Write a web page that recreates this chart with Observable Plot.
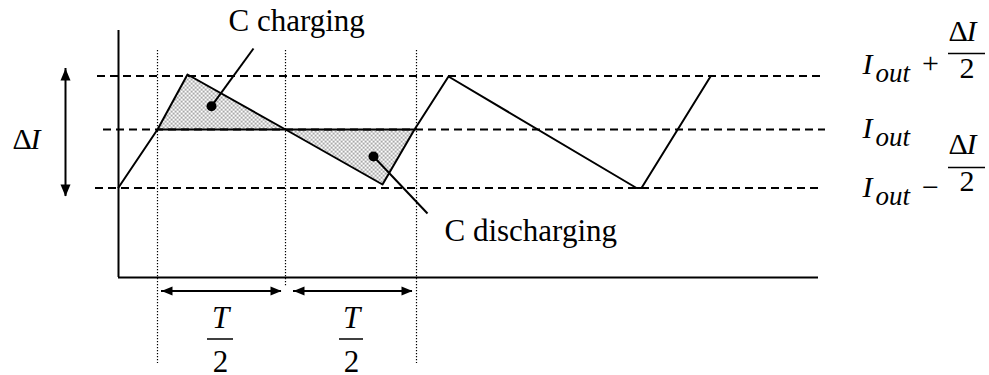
<!DOCTYPE html>
<html><head><meta charset="utf-8">
<script src="https://cdn.jsdelivr.net/npm/d3@7"></script>
<script src="https://cdn.jsdelivr.net/npm/@observablehq/plot@0.6"></script>
<style>
body{margin:0;background:#fff}
svg{display:block}
</style>
</head><body><div id="chart"></div>
<script>
// Diagram units: t = time (origin at the vertical axis), i = current relative to Iout (up positive)
const levels = [
  {name: "Iout + ΔI/2", i: 53.5, t1: -21, t2: 704},
  {name: "Iout", i: 0, t1: -15, t2: 707},
  {name: "Iout − ΔI/2", i: -58.5, t1: -23, t2: 700}
];
const wave = [
  {t: 0, i: -58}, {t: 39, i: 0}, {t: 69, i: 55}, {t: 167, i: 0}, {t: 264, i: -55},
  {t: 296, i: 0}, {t: 330, i: 53}, {t: 518, i: -58.5}, {t: 523, i: -58.5}, {t: 592, i: 53}
];
const charging = [{t: 39, i: 0}, {t: 69, i: 55}, {t: 167, i: 0}, {t: 39, i: 0}];
const discharging = [{t: 167, i: 0}, {t: 264, i: -55}, {t: 296, i: 0}, {t: 167, i: 0}];
const midSegment = [{t1: 39, t2: 296, i: 0}];
const guides = [{t: 39, i1: 79, i2: -234}, {t: 167, i1: 79, i2: -158}, {t: 298, i1: 79, i2: -234}];
const axisY = [{t: 0, i1: 99, i2: -148}];
const axisX = [{i: -148, t1: 0, t2: 700}];
const pointers = [
  {name: "C charging", t1: 135, i1: 81, t2: 93, i2: 23.3},
  {name: "C discharging", t1: 309, i1: -84, t2: 255, i2: -27}
];
const deltaArrow = [{t: -53, i1: 61, i2: -67}];
const halfArrows = [{i: -161.5, t1: 43, t2: 163}, {i: -161.5, t1: 175, t2: 294}];
const captions = [
  {text: "C charging", t: 110, i: 99},
  {text: "C discharging", t: 326, i: -111}
];
const halfLabels = [{t: 102}, {t: 233}];
const halfNum = "T", halfDen = "2";
const halfBar = [{t1: 89, t2: 115}, {t1: 221, t2: 245}];
const halfRows = {num: -198, bar: -209.5, den: -242};
const levelLabels = [
  {row: "upper", I: 56, sub: 48, op: "+", opI: 57, dI: 89, bar: 76, den: 52},
  {row: "mid", I: -8, sub: -16},
  {row: "lower", I: -67, sub: -75, op: "−", opI: -67, dI: -24, bar: -38, den: -61}
];
const labelCols = {I: 744, sub: 757, op: 812, delta: 830, dI: 848, frac: 848.5, bar1: 830, bar2: 867};
const deltaLabel = {tDelta: -106, tI: -88, i: -19};

const serif = "Liberation Serif";
const headR = {draw(c){c.moveTo(0,0);c.lineTo(-11,-4.5);c.lineTo(-11,4.5);c.closePath();}};
const headL = {draw(c){c.moveTo(0,0);c.lineTo(11,-4.5);c.lineTo(11,4.5);c.closePath();}};
const headU = {draw(c){c.moveTo(0,0);c.lineTo(-5,12);c.lineTo(5,12);c.closePath();}};
const headD = {draw(c){c.moveTo(0,0);c.lineTo(-5,-12);c.lineTo(5,-12);c.closePath();}};

const fracRows = levelLabels.filter(d => d.op);

const svg = Plot.plot({
  width: 989, height: 375,
  marginTop: 0, marginRight: 0, marginBottom: 0, marginLeft: 0,
  x: {domain: [-118, 871], range: [0, 989], axis: null},
  y: {domain: [129, -246], range: [0, 375], axis: null},
  style: {background: "#fff"},
  marks: [
    Plot.line(charging, {x: "t", y: "i", fill: "url(#dots)", stroke: "none"}),
    Plot.line(discharging, {x: "t", y: "i", fill: "url(#dots)", stroke: "none"}),
    Plot.ruleY(levels, {y: "i", x1: "t1", x2: "t2", stroke: "#000", strokeWidth: 1.8, strokeDasharray: "8,5"}),
    Plot.ruleX(guides, {x: "t", y1: "i1", y2: "i2", stroke: "#000", strokeWidth: 1.2, strokeDasharray: "1.2,1.8"}),
    Plot.ruleX(axisY, {x: "t", y1: "i1", y2: "i2", stroke: "#000", strokeWidth: 2}),
    Plot.ruleY(axisX, {y: "i", x1: "t1", x2: "t2", stroke: "#000", strokeWidth: 2}),
    Plot.line(wave, {x: "t", y: "i", stroke: "#000", strokeWidth: 2}),
    Plot.ruleY(midSegment, {y: "i", x1: "t1", x2: "t2", stroke: "#000", strokeWidth: 2}),
    Plot.link(pointers, {x1: "t1", y1: "i1", x2: "t2", y2: "i2", stroke: "#000", strokeWidth: 2}),
    Plot.dot(pointers, {x: "t2", y: "i2", r: 5, fill: "#000", stroke: "none"}),
    // ΔI arrow
    Plot.ruleX(deltaArrow, {x: "t", y1: "i1", y2: "i2", stroke: "#000", strokeWidth: 2}),
    Plot.dot(deltaArrow, {x: "t", y: "i1", symbol: headU, fill: "#000", stroke: "none"}),
    Plot.dot(deltaArrow, {x: "t", y: "i2", symbol: headD, fill: "#000", stroke: "none"}),
    // T/2 arrows
    Plot.ruleY(halfArrows, {y: "i", x1: "t1", x2: "t2", stroke: "#000", strokeWidth: 2}),
    Plot.dot(halfArrows, {x: "t1", y: "i", symbol: headL, fill: "#000", stroke: "none"}),
    Plot.dot(halfArrows, {x: "t2", y: "i", symbol: headR, fill: "#000", stroke: "none"}),
    // captions
    Plot.text(captions, {x: "t", y: "i", text: "text", textAnchor: "start", lineAnchor: "bottom", fontSize: 31, fontFamily: serif, fill: "#000"}),
    // ΔI label
    Plot.text([deltaLabel], {x: "tDelta", y: "i", text: () => "Δ", textAnchor: "start", lineAnchor: "bottom", fontSize: 30, fontFamily: serif, fill: "#000"}),
    Plot.text([deltaLabel], {x: "tI", y: "i", text: () => "I", textAnchor: "start", lineAnchor: "bottom", fontSize: 30, fontStyle: "italic", fontFamily: serif, fill: "#000"}),
    // T/2 labels
    Plot.text(halfLabels, {x: "t", y: () => halfRows.num, text: () => halfNum, textAnchor: "middle", lineAnchor: "bottom", fontSize: 31, fontStyle: "italic", fontFamily: serif, fill: "#000"}),
    Plot.ruleY(halfBar, {y: () => halfRows.bar, x1: "t1", x2: "t2", stroke: "#000", strokeWidth: 1.5}),
    Plot.text(halfLabels, {x: "t", y: () => halfRows.den, text: () => halfDen, textAnchor: "middle", lineAnchor: "bottom", fontSize: 31, fontFamily: serif, fill: "#000"}),
    // level labels
    Plot.text(levelLabels, {x: () => labelCols.I, y: "I", text: () => "I", textAnchor: "start", lineAnchor: "bottom", fontSize: 30, fontStyle: "italic", fontFamily: serif, fill: "#000"}),
    Plot.text(levelLabels, {x: () => labelCols.sub, y: "sub", text: () => "out", textAnchor: "start", lineAnchor: "bottom", fontSize: 27, fontStyle: "italic", fontFamily: serif, fill: "#000"}),
    Plot.text(fracRows, {x: () => labelCols.op, y: "opI", text: "op", textAnchor: "middle", lineAnchor: "bottom", fontSize: 30, fontFamily: serif, fill: "#000"}),
    Plot.text(fracRows, {x: () => labelCols.delta, y: "dI", text: () => "Δ", textAnchor: "start", lineAnchor: "bottom", fontSize: 30, fontFamily: serif, fill: "#000"}),
    Plot.text(fracRows, {x: () => labelCols.dI, y: "dI", text: () => "I", textAnchor: "start", lineAnchor: "bottom", fontSize: 30, fontStyle: "italic", fontFamily: serif, fill: "#000"}),
    Plot.ruleY(fracRows, {y: "bar", x1: () => labelCols.bar1, x2: () => labelCols.bar2, stroke: "#000", strokeWidth: 1.5}),
    Plot.text(fracRows, {x: () => labelCols.frac, y: "den", text: () => "2", textAnchor: "middle", lineAnchor: "bottom", fontSize: 30, fontFamily: serif, fill: "#000"})
  ]
});

const defs = d3.select(svg).insert("defs", ":first-child");
const pat = defs.append("pattern").attr("id", "dots").attr("width", 4).attr("height", 4).attr("patternUnits", "userSpaceOnUse");
pat.append("rect").attr("width", 4).attr("height", 4).attr("fill", "#fff");
pat.append("rect").attr("x", 0.5).attr("y", 0.5).attr("width", 1.3).attr("height", 1.3).attr("fill", "#333");
pat.append("rect").attr("x", 2.5).attr("y", 2.5).attr("width", 1.3).attr("height", 1.3).attr("fill", "#333");

document.getElementById("chart").appendChild(svg);
</script>
</body></html>
